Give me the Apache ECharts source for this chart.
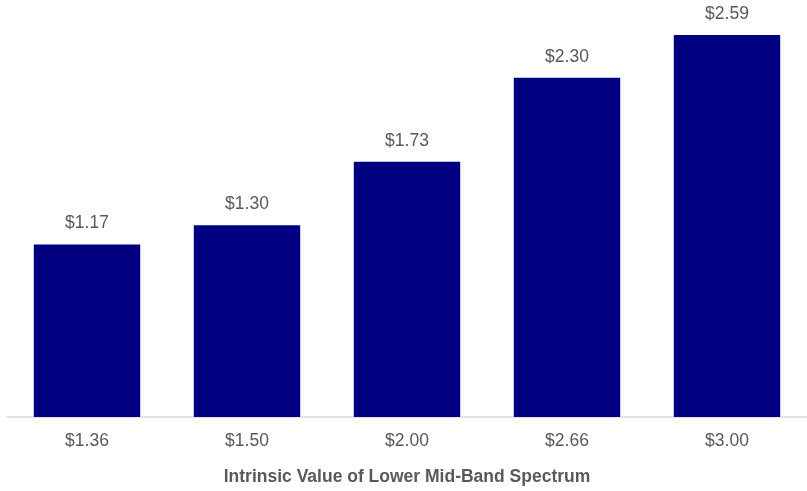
<!DOCTYPE html>
<html>
<head>
<meta charset="utf-8">
<script src="https://cdn.jsdelivr.net/npm/echarts@6/dist/echarts.min.js"></script>
<style>
  html, body { margin: 0; padding: 0; background: #fff; }
  #chart { width: 807px; height: 491px; }
</style>
</head>
<body>
<div id="chart"></div>
<script>
// Spectrum intrinsic value (x) vs. resulting value per unit (bar height)
const categories = ['$1.36', '$1.50', '$2.00', '$2.66', '$3.00'];
const values = [1.17, 1.30, 1.73, 2.30, 2.59];
const axisTitle = 'Intrinsic Value of Lower Mid-Band Spectrum';

const FONT = '"Liberation Sans Narrow", "Arial Narrow", "Liberation Sans", Arial, sans-serif';

const chart = echarts.init(document.getElementById('chart'));
chart.setOption({
  animation: false,
  grid: { left: 7, right: -4, top: 4, bottom: 73, containLabel: false },
  xAxis: {
    type: 'category',
    data: categories,
    axisLine: { lineStyle: { color: '#d9d9d9', width: 1.5 } },
    axisTick: { show: false },
    axisLabel: { color: '#595959', fontFamily: FONT, fontSize: 17.5, margin: 15 },
    name: axisTitle,
    nameLocation: 'middle',
    nameGap: 51,
    nameTextStyle: { color: '#595959', fontFamily: FONT, fontSize: 17.5, fontWeight: 'bold' }
  },
  yAxis: {
    type: 'value',
    min: 0,
    max: 2.8,
    show: false,
    splitLine: { show: false }
  },
  series: [{
    type: 'bar',
    data: values,
    barCategoryGap: '33.5%',
    itemStyle: { color: '#000080' },
    label: {
      show: true,
      position: 'top',
      distance: 12,
      color: '#595959',
      fontFamily: FONT,
      fontSize: 17.5,
      formatter: p => '$' + p.value.toFixed(2)
    }
  }]
});
</script>
</body>
</html>
